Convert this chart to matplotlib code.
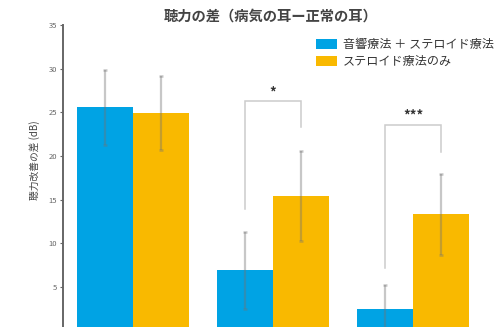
import matplotlib
matplotlib.use("Agg")
import matplotlib.pyplot as plt
import numpy as np

plt.rcParams['font.family'] = ['Noto Sans CJK JP', 'DejaVu Sans']

# Data
groups = ["A", "B", "C"]
combo_vals = [25.6, 6.9, 2.5]
combo_err = [4.3, 4.4, 2.7]
steroid_vals = [24.9, 15.4, 13.3]
steroid_err = [4.2, 5.2, 4.6]
series_labels = ["音響療法 ＋ ステロイド療法", "ステロイド療法のみ"]
title = "聴力の差（病気の耳ー正常の耳）"
ylabel = "聴力改善の差 (dB)"
yticks = [5, 10, 15, 20, 25, 30, 35]
# significance brackets: (group index, bracket height, left end, right end, label)
sig_group = [1, 2]
sig_height = [26.3, 23.6]
sig_left_end = [13.9, 7.2]
sig_right_end = [23.3, 20.5]
sig_label = ["*", "***"]

W, H = 501, 327
fig = plt.figure(figsize=(W / 100, H / 100), dpi=100)
ax_left = 63 / W
ax_bottom = 1 - 330.5 / H
ax_top = 1 - 25 / H
ax_width = 420 / W
ax = fig.add_axes([ax_left, ax_bottom, ax_width, ax_top - ax_bottom])

x = np.arange(len(groups))
bw = 0.4
blue = "#00A3E4"
orange = "#F9B900"
ekw = dict(ecolor=(0.45, 0.45, 0.45, 0.4), elinewidth=1.6, capsize=1.2, capthick=1.8)
ax.bar(x - bw / 2, combo_vals, bw, color=blue, yerr=combo_err, error_kw=ekw,
       label=series_labels[0])
ax.bar(x + bw / 2, steroid_vals, bw, color=orange, yerr=steroid_err, error_kw=ekw,
       label=series_labels[1])

for g, h, le, re, lab in zip(sig_group, sig_height, sig_left_end, sig_right_end, sig_label):
    xl, xr = g - bw / 2, g + bw / 2
    ax.plot([xl, xl, xr, xr], [le, h, h, re], color="#cccccc", lw=1.1,
            solid_joinstyle="miter", clip_on=False)
    ax.text(g, h + 0.2, lab, ha="center", va="bottom", fontsize=9.5,
            fontweight="bold", color="#333333")

ax.set_xlim(-0.5, 2.5)
ax.set_ylim(0, 35)
ax.set_yticks(yticks)
ax.set_yticklabels([str(t) for t in yticks])
ax.tick_params(axis="y", labelsize=5.5, labelcolor="#666666", color="#666666",
               length=2.5, width=0.8, pad=2)
ax.set_xticks([])
for s in ["top", "right", "bottom"]:
    ax.spines[s].set_visible(False)
ax.spines["left"].set_color("#666666")
ax.spines["left"].set_linewidth(1.4)

fig.text(ax_left - 28 / W, 1 - 160 / H, ylabel, rotation=90, ha="center", va="center",
         fontsize=7, color="#444444")
fig.text(271 / W, 1 - 17 / H, title, ha="center", va="center", fontsize=10.3,
         fontweight="bold", color="#444444")

fig.legend(loc="upper left", bbox_to_anchor=(316 / W, 1 - 38 / H), frameon=False,
           fontsize=8.7, handlelength=1.7, handleheight=0.95, handletextpad=0.5,
           labelspacing=0.35, borderpad=0, borderaxespad=0, labelcolor="#333333")

fig.savefig("out.png", dpi=100)
